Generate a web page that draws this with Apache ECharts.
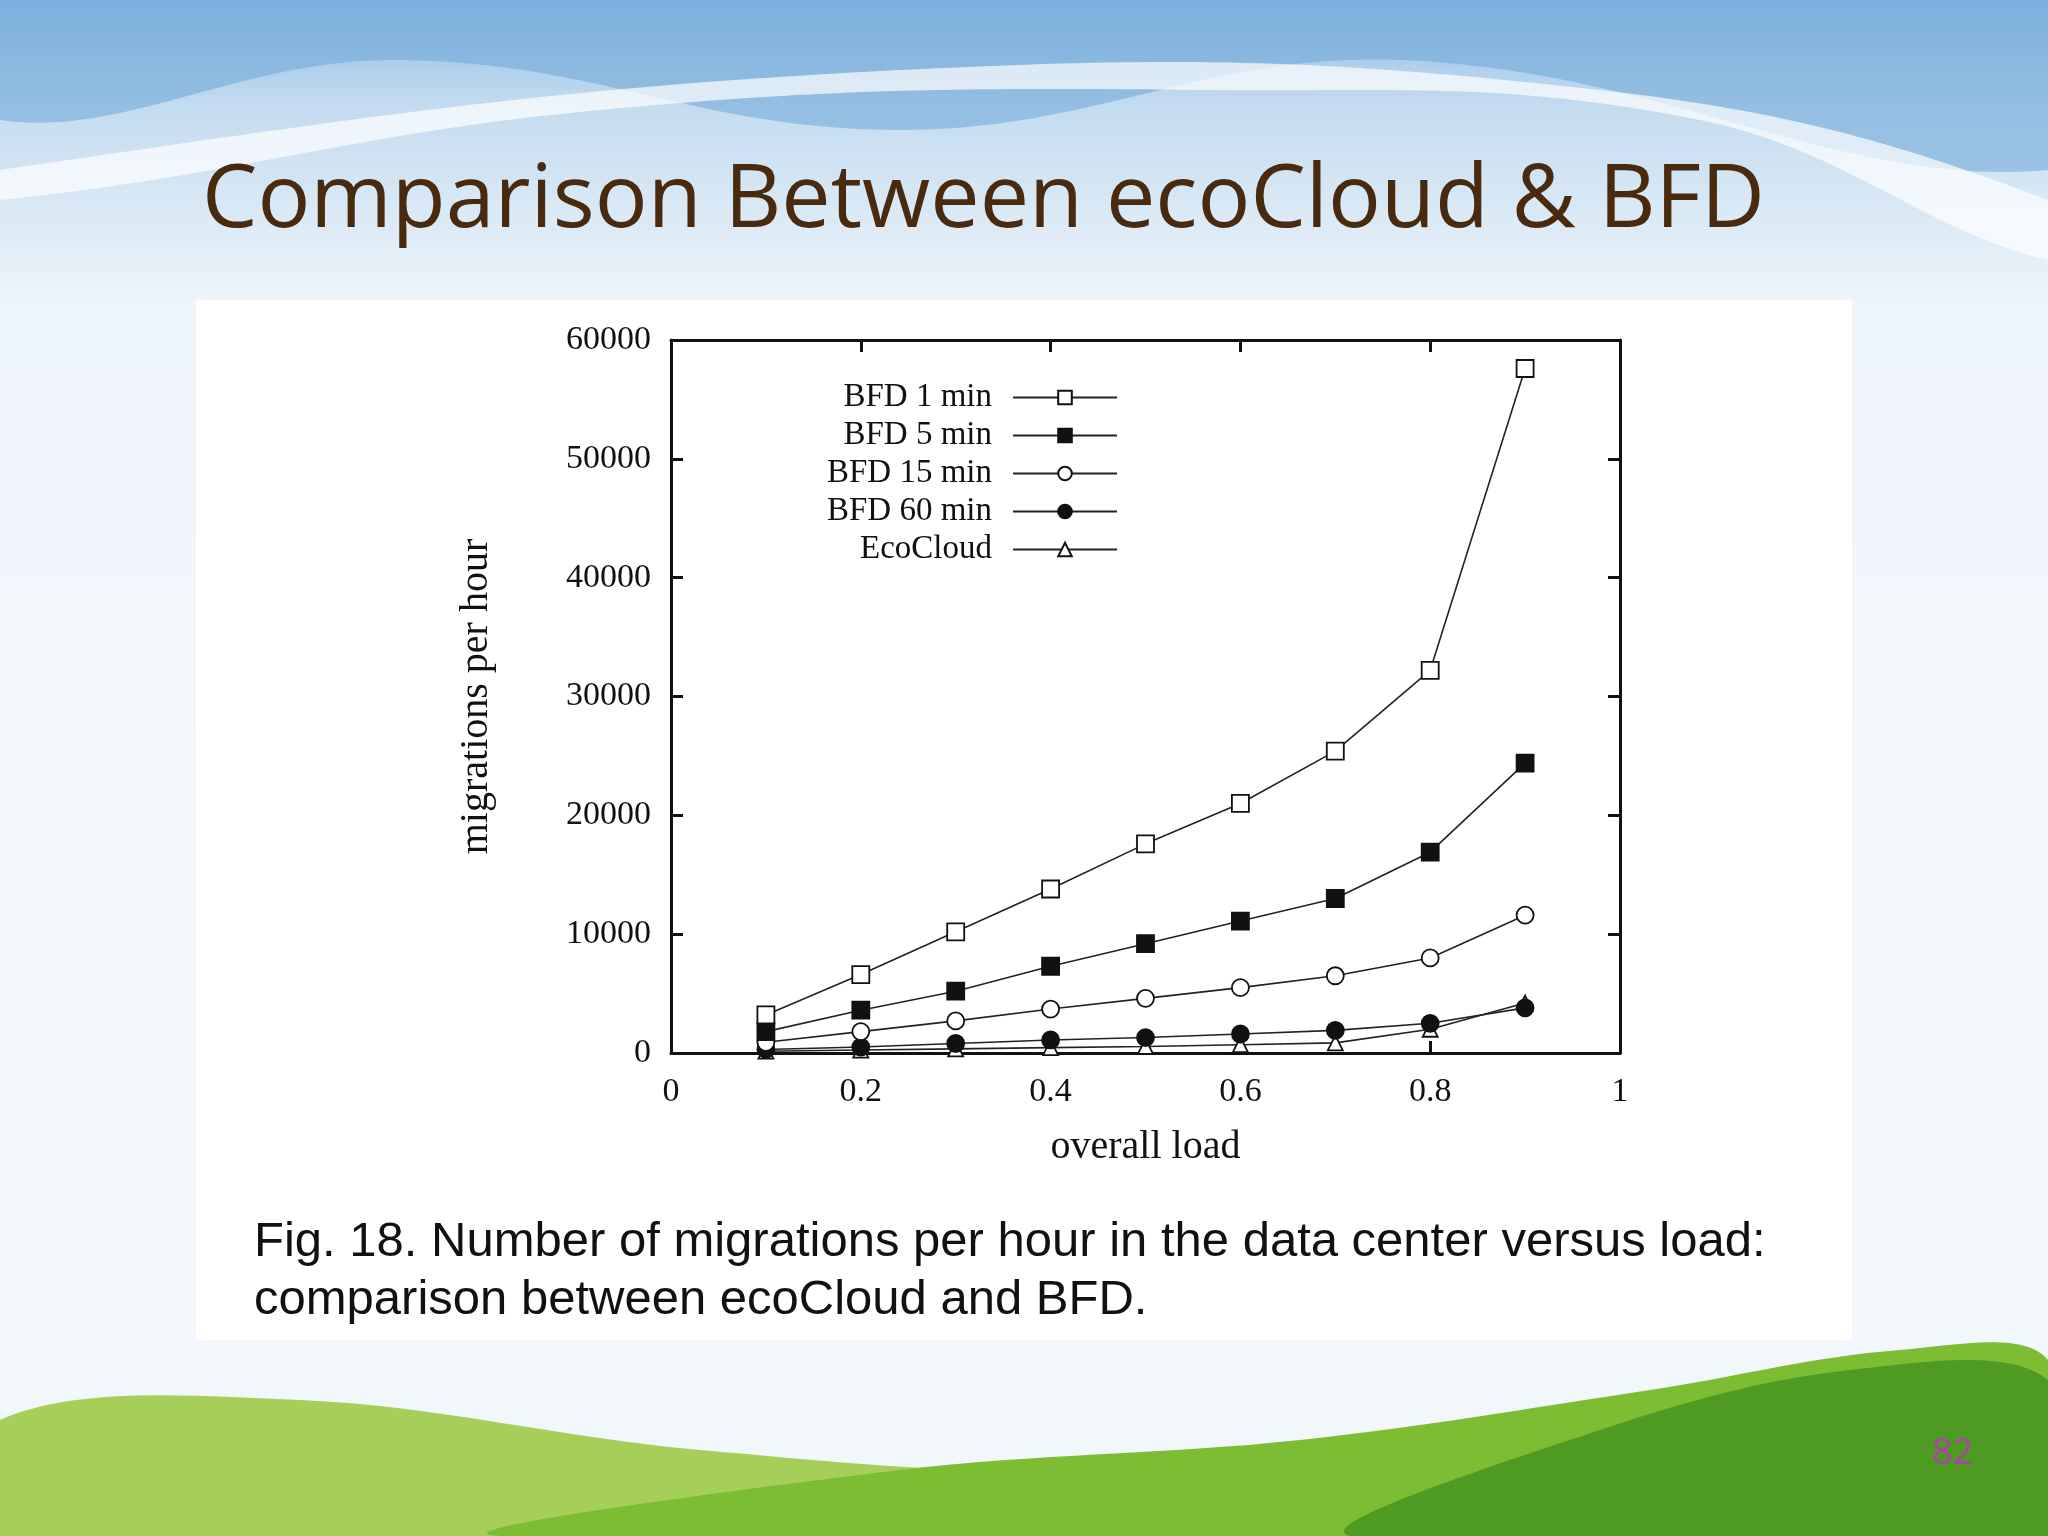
<!DOCTYPE html>
<html>
<head>
<meta charset="utf-8">
<script src="https://cdn.jsdelivr.net/npm/echarts@6/dist/echarts.min.js"></script>
<style>
  html, body { margin: 0; padding: 0; }
  #chart { width: 2048px; height: 1536px; }
</style>
</head>
<body>
<div id="chart"></div>
<script>
// values
const loads = [0.1, 0.2, 0.3, 0.4, 0.5, 0.6, 0.7, 0.8, 0.9];
const bfd1 = [3200, 6600, 10200, 13800, 17600, 21000, 25400, 32200, 57600];
const bfd5 = [1800, 3600, 5200, 7300, 9200, 11100, 13000, 16900, 24400];
const bfd15 = [900, 1800, 2700, 3700, 4600, 5500, 6500, 8000, 11600];
const bfd60 = [300, 500, 800, 1100, 1300, 1600, 1900, 2500, 3800];
const eco = [150, 250, 350, 450, 550, 700, 850, 2000, 4200];

const seriesNames = ['BFD 1 min', 'BFD 5 min', 'BFD 15 min', 'BFD 60 min', 'EcoCloud'];
const seriesData = [bfd1, bfd5, bfd15, bfd60, eco];
const symbols = ['rect', 'rect', 'circle', 'circle', 'triangle'];
const filled = [false, true, false, true, false];

const serif = '"Liberation Serif", "DejaVu Serif", serif';

const chart = echarts.init(document.getElementById('chart'));

const series = seriesNames.map((name, i) => ({
  name: name,
  type: 'line',
  data: loads.map((x, j) => [x, seriesData[i][j]]),
  symbol: symbols[i],
  symbolSize: symbols[i] === 'triangle' ? 15 : 17,
  lineStyle: { color: '#222', width: 1.6 },
  itemStyle: { color: filled[i] ? '#111' : '#fff', borderColor: '#111', borderWidth: 1.8 },
  z: 10 - i
}));

const tick = { show: true, inside: true, length: 12, lineStyle: { color: '#111', width: 3 } };
const line = { show: true, onZero: false, lineStyle: { color: '#111', width: 3 } };

const axisCommon = {
  type: 'value', min: 0, max: 1, interval: 0.2,
  axisLine: line, axisTick: tick, splitLine: { show: false }
};
const yCommon = {
  type: 'value', min: 0, max: 60000, interval: 10000,
  axisLine: line, axisTick: tick, splitLine: { show: false }
};

chart.setOption({
  animation: false,
  backgroundColor: {
    type: 'linear', x: 0, y: 0, x2: 0, y2: 1,
    colorStops: [
      { offset: 0, color: '#8dbbe4' },
      { offset: 0.07, color: '#c4dcf0' },
      { offset: 0.2, color: '#eef5fb' },
      { offset: 0.6, color: '#f4f8fc' },
      { offset: 1, color: '#f2f7fb' }
    ]
  },
  graphic: [
    { type: 'polygon', silent: true, z: -10, shape: { smooth: 0.4, points: [[0, 120], [400, 60], [900, 130], [1400, 60], [2048, 170], [2048, 0], [0, 0]] },
      style: { fill: 'rgba(110,165,215,0.55)' } },
    { type: 'polygon', silent: true, z: -9, shape: { smooth: 0.4, points: [[0, 200], [600, 110], [1200, 90], [1700, 120], [2048, 260], [2048, 200], [1600, 90], [900, 70], [0, 170]] },
      style: { fill: 'rgba(255,255,255,0.7)' } },
    { type: 'polygon', silent: true, z: -8, shape: { smooth: 0.35, points: [[0, 1420], [300, 1400], [700, 1450], [1100, 1470], [1500, 1420], [1800, 1380], [2048, 1360], [2048, 1536], [0, 1536]] },
      style: { fill: '#a6cf5a' } },
    { type: 'polygon', silent: true, z: -7, shape: { smooth: 0.35, points: [[500, 1536], [900, 1470], [1300, 1440], [1650, 1390], [1900, 1350], [2048, 1360], [2048, 1536]] },
      style: { fill: '#7cbd34' } },
    { type: 'polygon', silent: true, z: -6, shape: { smooth: 0.35, points: [[1350, 1536], [1600, 1430], [1850, 1370], [2048, 1380], [2048, 1536]] },
      style: { fill: '#4e9a22' } },
    { type: 'rect', silent: true, z: -5, shape: { x: 196, y: 300, width: 1656, height: 1040 }, style: { fill: '#fff' } },
    { type: 'text', left: 202, top: 158, style: { text: 'Comparison Between ecoCloud & BFD', font: '88px "Open Sans", "Noto Sans", sans-serif', fill: '#4a2a0e' } },
    { type: 'text', left: 254, top: 1218, style: { text: 'Fig. 18. Number of migrations per hour in the data center versus load:', font: '49px "Liberation Sans", Arial, sans-serif', fill: '#111' } },
    { type: 'text', left: 254, top: 1276, style: { text: 'comparison between ecoCloud and BFD.', font: '49px "Liberation Sans", Arial, sans-serif', fill: '#111' } },
    { type: 'text', left: 1932, top: 1436, style: { text: '82', font: '36px "Open Sans", sans-serif', fill: '#b040b0' } }
  ],
  grid: { left: 671, right: 428, top: 340, bottom: 483 },
  legend: {
    orient: 'vertical', right: 925, top: 376, align: 'right',
    itemWidth: 104, itemHeight: 17, itemGap: 5,
    textStyle: { fontFamily: serif, fontSize: 33, color: '#111', padding: [0, 16, 0, 0] },
    data: seriesNames
  },
  xAxis: [
    Object.assign({}, axisCommon, {
      position: 'bottom', name: 'overall load', nameLocation: 'middle', nameGap: 74,
      nameTextStyle: { fontFamily: serif, fontSize: 40, color: '#111' },
      axisLabel: { fontFamily: serif, fontSize: 34, color: '#111', margin: 22, formatter: v => String(+v.toFixed(1)) }
    }),
    Object.assign({}, axisCommon, { position: 'top', axisLabel: { show: false } })
  ],
  yAxis: [
    Object.assign({}, yCommon, {
      position: 'left', name: 'migrations per hour', nameLocation: 'middle', nameGap: 175,
      nameTextStyle: { fontFamily: serif, fontSize: 40, color: '#111' },
      axisLabel: { fontFamily: serif, fontSize: 34, color: '#111', margin: 20, formatter: v => String(v) }
    }),
    Object.assign({}, yCommon, { position: 'right', axisLabel: { show: false } })
  ],
  series: series
});
</script>
</body>
</html>
